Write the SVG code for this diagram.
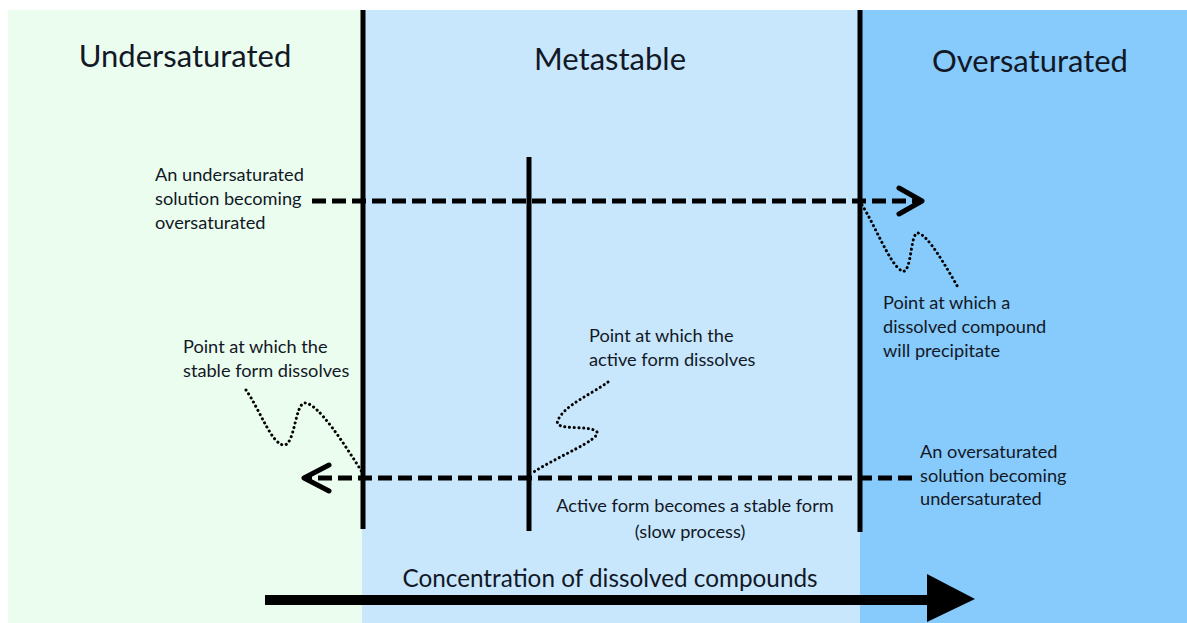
<svg xmlns="http://www.w3.org/2000/svg" width="1187" height="623" viewBox="0 0 1187 623">
<style>
text{font-family:Lato,"Open Sans","Liberation Sans",sans-serif;fill:#121826}
.t{font-size:31px}
.s{font-size:18.2px}
.v{stroke:#000;stroke-width:5;fill:none}
.d{stroke:#000;stroke-width:5;stroke-dasharray:14 6;fill:none}
.h{stroke:#000;stroke-width:5;fill:none;stroke-linecap:round;stroke-linejoin:round}
.p{stroke:#000;stroke-width:3;stroke-dasharray:0.1 4.6;stroke-linecap:round;fill:none}
</style>
<rect width="1187" height="623" fill="#fff"/>
<g id="zones">
<rect x="8" y="10" width="354" height="613" fill="#ebfdef"/>
<rect x="362" y="10" width="498" height="613" fill="#c8e7fc"/>
<rect x="860" y="10" width="327" height="613" fill="#87cbfc"/>
</g>
<g id="titles">
<text class="t" x="185" y="67" text-anchor="middle">Undersaturated</text>
<text class="t" x="610" y="70" text-anchor="middle">Metastable</text>
<text class="t" x="1030" y="72" text-anchor="middle">Oversaturated</text>
</g>
<g id="connectors">
<line class="v" x1="363" y1="10" x2="363" y2="529"/>
<line class="v" x1="529" y1="157" x2="529" y2="531"/>
<line class="v" x1="860" y1="10" x2="860" y2="532"/>
<line class="d" x1="312" y1="201" x2="918" y2="201"/>
<polyline class="h" points="899,188 922,201 899,214"/>
<line class="d" x1="912" y1="478" x2="308" y2="478"/>
<polyline class="h" points="329,465 304,478 329,491"/>
<path class="p" d="M862,205 C875,225 890,265 902,271 C912,275 910,232 918,233 C928,235 945,265 959,289"/>
<path class="p" d="M246,390 C260,410 272,445 284,445 C295,445 295,403 305,403 C318,403 345,445 362,472"/>
<path class="p" d="M608,382 C590,395 565,405 558,420 C552,432 590,424 597,432 C600,440 560,455 532,473"/>
<line x1="265" y1="600" x2="932" y2="600" stroke="#000" stroke-width="10"/>
<polygon points="927,574 975,599 927,622" fill="#000"/>
</g>
<g id="labels">
<text class="s" x="155" y="181">An undersaturated</text>
<text class="s" x="155" y="205">solution becoming</text>
<text class="s" x="155" y="229">oversaturated</text>
<text class="s" x="883" y="309">Point at which a</text>
<text class="s" x="883" y="333">dissolved compound</text>
<text class="s" x="883" y="357">will precipitate</text>
<text class="s" x="183" y="353">Point at which the</text>
<text class="s" x="183" y="377">stable form dissolves</text>
<text class="s" x="589" y="342">Point at which the</text>
<text class="s" x="589" y="366">active form dissolves</text>
<text class="s" x="920" y="458">An oversaturated</text>
<text class="s" x="920" y="482">solution becoming</text>
<text class="s" x="920" y="505">undersaturated</text>
<text class="s" x="695" y="512" text-anchor="middle">Active form becomes a stable form</text>
<text class="s" x="690" y="538" text-anchor="middle">(slow process)</text>
<text x="610" y="587" text-anchor="middle" font-size="24.3">Concentration of dissolved compounds</text>
</g>
</svg>
